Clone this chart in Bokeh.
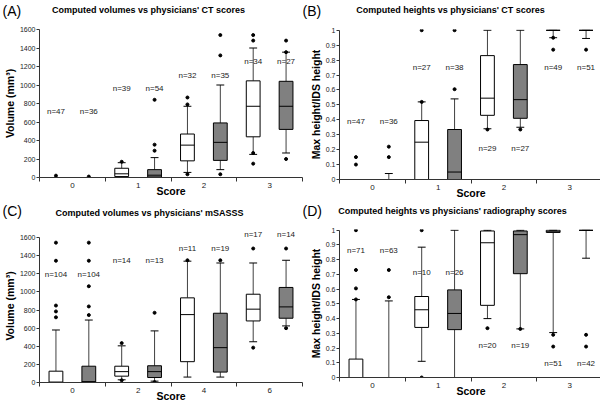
from bokeh.plotting import figure
from bokeh.models import ColumnDataSource, Range1d, FixedTicker, Label
from bokeh.layouts import column, row
from bokeh.embed import file_html
from bokeh.resources import INLINE
from bokeh.core.properties import value

FONT = "Liberation Sans"

# ---------------- data ----------------
# box order in every panel: group0 white, group0 gray, group1 white, group1 gray, ...
A_groups = ["0", "1", "2", "3"]
A_q1 = [0, 0, 10, 5, 180, 185, 440, 520]
A_med = [0, 0, 40, 25, 350, 380, 770, 770]
A_q3 = [0, 0, 100, 85, 470, 590, 1045, 1040]
A_lo = [0, 0, 0, 0, 55, 85, 250, 265]
A_hi = [0, 0, 160, 215, 770, 1000, 1400, 1355]
A_n = [47, 36, 39, 54, 32, 35, 34, 27]
A_n_y = [715, 715, 957, 957, 1105, 1105, 1250, 1250]
A_out_box = [0, 1, 2, 3, 3, 3, 4, 4, 4, 5, 5, 5, 6, 6, 6, 6, 7, 7, 7]
A_out_val = [20, 10, 170, 290, 355, 840, 35, 790, 865, 35, 1320, 1540, 150, 265, 1480, 1540, 200, 1480, 1355]
A_ticks = [0, 200, 400, 600, 800, 1000, 1200, 1400, 1600]

B_groups = ["0", "1", "2", "3"]
B_q1 = [0, 0, 0, 0, 0.43, 0.41, 1.0, 1.0]
B_med = [0, 0, 0.25, 0.05, 0.545, 0.535, 1.0, 1.0]
B_q3 = [0, 0, 0.395, 0.335, 0.83, 0.77, 1.0, 1.0]
B_lo = [0, 0, 0, 0, 0.34, 0.35, 0.95, 0.945]
B_hi = [0, 0.04, 0.52, 0.54, 1.0, 1.0, 1.0, 1.0]
B_n = [47, 36, 27, 38, 29, 27, 49, 51]
B_n_y = [0.39, 0.39, 0.75, 0.75, 0.205, 0.205, 0.75, 0.75]
B_out_box = [0, 0, 1, 1, 2, 2, 3, 3, 4, 5, 6, 6, 7]
B_out_val = [0.10, 0.15, 0.15, 0.22, 0.52, 1.0, 0.605, 1.0, 0.335, 0.335, 0.95, 0.87, 0.87]
B_ticks = [0, 0.1, 0.2, 0.3, 0.4, 0.5, 0.6, 0.7, 0.8, 0.9, 1]
B_tick_labels = ["0", "0.1", "0.2", "0.3", "0.4", "0.5", "0.6", "0.7", "0.8", "0.9", "1"]

C_groups = ["0", "2", "4", "6"]
C_q1 = [0, 0, 70, 55, 230, 115, 680, 710]
C_med = [5, 10, 120, 120, 750, 385, 810, 835]
C_q3 = [125, 180, 180, 185, 935, 765, 975, 1050]
C_lo = [0, 0, 30, 15, 60, 60, 450, 625]
C_hi = [580, 690, 405, 570, 1340, 1320, 1320, 1350]
C_n = [104, 104, 14, 13, 11, 19, 17, 14]
C_n_y = [1192, 1192, 1346, 1346, 1482, 1482, 1640, 1640]
C_out_box = [0, 0, 0, 0, 0, 1, 1, 1, 1, 1, 2, 2, 3, 3, 4, 5, 6, 6, 7, 7]
C_out_val = [720, 785, 850, 1345, 1545, 745, 840, 1063, 1345, 1545, 435, 25, 770, 5, 1350, 1350, 385, 1480, 600, 1480]

D_groups = ["0", "1", "2", "3"]
D_q1 = [0, 0, 0.34, 0.325, 0.49, 0.705, 0.985, 1.0]
D_med = [0, 0, 0.46, 0.435, 0.915, 0.97, 0.99, 1.0]
D_q3 = [0.125, 0, 0.55, 0.595, 0.995, 0.995, 1.0, 1.0]
D_lo = [0, 0, 0.11, 0, 0.40, 0.33, 0.305, 0.81]
D_hi = [0.53, 0.52, 0.885, 1.0, 1.0, 1.0, 1.0, 1.0]
D_n = [71, 63, 10, 26, 20, 19, 51, 42]
D_n_y = [0.86, 0.86, 0.713, 0.713, 0.219, 0.219, 0.095, 0.095]
D_out_box = [0, 0, 0, 0, 1, 1, 2, 2, 4, 5, 6, 6, 7, 7]
D_out_val = [0.53, 0.605, 0.73, 1.0, 0.545, 0.73, 0.0, 1.0, 0.335, 0.33, 0.29, 0.21, 0.29, 0.21]

TAGS = ["(A)", "(B)", "(C)", "(D)"]
TITLES = ["Computed volumes vs physicians' CT scores",
          "Computed heights vs physicians' CT scores",
          "Computed volumes vs physicians' mSASSS",
          "Computed heights vs physicians' radiography scores"]

FILLS = ["white", "#808080"]
PANEL_W = 300
HEAD_H = 22


def header(tag_l, title_l, tag_r, title_r, tx_l, ty_l, tx_r, ty_r):
    h = figure(width=2 * PANEL_W, height=HEAD_H, x_range=Range1d(0, 2 * PANEL_W),
               y_range=Range1d(HEAD_H, 0), x_axis_type=None, y_axis_type=None,
               min_border=0, min_border_left=0, min_border_right=0,
               min_border_top=0, min_border_bottom=0,
               output_backend="svg", toolbar_location=None)
    h.outline_line_color = None
    h.grid.visible = False
    h.background_fill_color = "white"
    h.border_fill_color = "white"
    for i, (tag, title, tx, ty) in enumerate(((tag_l, title_l, tx_l, ty_l), (tag_r, title_r, tx_r, ty_r))):
        x0 = i * PANEL_W
        h.add_layout(Label(x=x0 + 2, y=10.5, text=tag, text_font=FONT, text_font_size="14px",
                           text_align="left", text_baseline="middle", text_color="black"))
        h.add_layout(Label(x=x0 + tx, y=ty, text=title, text_font=FONT, text_font_size="9px",
                           text_font_style="bold", text_align="center", text_baseline="middle",
                           text_color="black"))
    return h


def panel(ylabel, groups, q1, med, q3, lo, hi, ns, n_y, out_box, out_val,
          ticks, tick_labels, y_end, axis_top, top_b, frame_h, bottom_b):
    BW = 0.21
    CAP = 0.12
    xs = []
    fills = []
    for g in range(len(groups)):
        for k, off in enumerate((0.25, 0.75)):
            xs.append(g + off)
            fills.append(FILLS[k])
    src = ColumnDataSource(dict(
        x=xs, q1=q1, med=med, q3=q3, lo=lo, hi=hi, fill=fills,
        xl=[v - BW / 2 for v in xs], xr=[v + BW / 2 for v in xs],
        cl=[v - CAP / 2 for v in xs], cr=[v + CAP / 2 for v in xs],
        ntext=["n=%d" % n for n in ns], ny=n_y,
    ))
    osrc = ColumnDataSource(dict(x=[xs[b] for b in out_box], y=out_val))

    p = figure(frame_width=263, frame_height=frame_h,
               min_border_left=34, min_border_right=3, min_border_top=top_b, min_border_bottom=bottom_b,
               x_range=Range1d(0, len(groups)), y_range=Range1d(0, y_end),
               output_backend="svg", toolbar_location=None)
    p.outline_line_color = None
    p.grid.visible = False
    p.background_fill_color = "white"
    p.border_fill_color = "white"

    # whiskers
    p.segment(x0="x", y0="q3", x1="x", y1="hi", source=src, line_color="#404040", line_width=1)
    p.segment(x0="x", y0="q1", x1="x", y1="lo", source=src, line_color="#404040", line_width=1)
    # boxes
    p.vbar(x="x", width=BW, bottom="q1", top="q3", source=src,
           fill_color="fill", line_color="black", line_width=1)
    # medians
    p.segment(x0="xl", y0="med", x1="xr", y1="med", source=src, line_color="black", line_width=1)
    # caps
    p.segment(x0="cl", y0="hi", x1="cr", y1="hi", source=src, line_color="black", line_width=1)
    p.segment(x0="cl", y0="lo", x1="cr", y1="lo", source=src, line_color="black", line_width=1)
    # outliers
    p.scatter(x="x", y="y", source=osrc, marker="circle", size=3,
              fill_color="black", line_color="black")
    # n labels
    p.text(x="x", y="ny", text="ntext", source=src, text_align="center", text_baseline="middle",
           text_font=value(FONT), text_font_size=value("8px"), text_color="#222222")

    # x axis
    xa = p.xaxis[0]
    xa.ticker = FixedTicker(ticks=[g + 0.5 for g in range(len(groups))],
                            minor_ticks=list(range(len(groups) + 1)))
    xa.major_label_overrides = {g + 0.5: lab for g, lab in enumerate(groups)}
    xa.major_tick_line_color = None
    xa.major_tick_out = 4
    xa.major_tick_in = 0
    xa.minor_tick_out = 4
    xa.minor_tick_in = 0
    xa.minor_tick_line_color = "#333333"
    xa.axis_line_color = "#333333"
    xa.major_label_text_font = FONT
    xa.major_label_text_font_size = "8px"
    xa.major_label_text_color = "#222222"
    xa.major_label_standoff = 1
    xa.axis_label = "Score"
    xa.axis_label_text_font = FONT
    xa.axis_label_text_font_style = "bold"
    xa.axis_label_text_font_size = "10.5px"
    xa.axis_label_text_color = "black"
    xa.axis_label_standoff = -6

    # y axis
    ya = p.yaxis[0]
    ya.ticker = FixedTicker(ticks=ticks, minor_ticks=[])
    if tick_labels is not None:
        ya.major_label_overrides = {t: lab for t, lab in zip(ticks, tick_labels)}
    ya.bounds = (0, axis_top)
    ya.major_tick_out = 3
    ya.major_tick_in = 0
    ya.major_tick_line_color = "#333333"
    ya.axis_line_color = "#333333"
    ya.major_label_text_font = FONT
    ya.major_label_text_font_size = "7px"
    ya.major_label_text_color = "#222222"
    ya.major_label_standoff = 1
    ya.axis_label = ylabel
    ya.axis_label_text_font = FONT
    ya.axis_label_text_font_style = "bold"
    ya.axis_label_text_font_size = "10.5px"
    ya.axis_label_text_color = "black"
    ya.axis_label_standoff = 1
    return p


pa = panel("Volume (mm\u00b3)",
           A_groups, A_q1, A_med, A_q3, A_lo, A_hi, A_n, A_n_y, A_out_box, A_out_val,
           A_ticks, None, 1600, 1600, 7, 148, 23)
pb = panel("Max height/IDS height",
           B_groups, B_q1, B_med, B_q3, B_lo, B_hi, B_n, B_n_y, B_out_box, B_out_val,
           B_ticks, B_tick_labels, 1.005, 1, 4, 150, 24)
pc = panel("Volume (mm\u00b3)",
           C_groups, C_q1, C_med, C_q3, C_lo, C_hi, C_n, C_n_y, C_out_box, C_out_val,
           A_ticks, None, 1690, 1600, 2, 153, 23)
pd_ = panel("Max height/IDS height",
            D_groups, D_q1, D_med, D_q3, D_lo, D_hi, D_n, D_n_y, D_out_box, D_out_val,
            B_ticks, B_tick_labels, 1.005, 1, 7, 148, 23)

h1 = header(TAGS[0], TITLES[0], TAGS[1], TITLES[1], 148, 9, 150, 9)
h2 = header(TAGS[2], TITLES[2], TAGS[3], TITLES[3], 149, 12, 152, 10)

layout = column(h1, row(pa, pb), h2, row(pc, pd_))

open("out.html", "w").write(file_html(layout, INLINE))
